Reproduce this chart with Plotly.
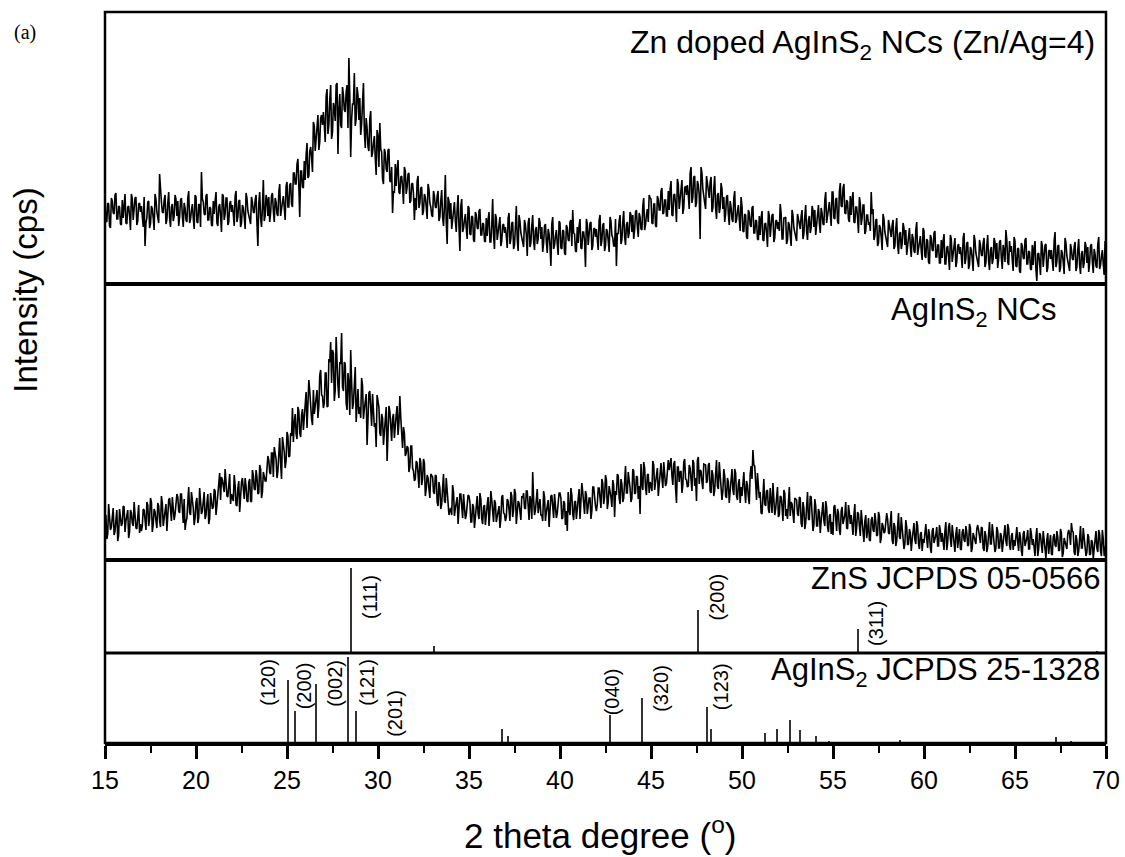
import numpy as np
import plotly.graph_objects as go

# ---------------- data ----------------
two_theta_start = 15.0
two_theta_step = 0.05

# Zn doped AgInS2 NCs (Zn/Ag=4) - intensity (a.u.) read at 15.0, 15.1, ... 70.0 (one row per degree)
zn_doped_main = [
    88, 62, 80, 56, 83, 70, 91, 65, 77, 59,
    66, 90, 60, 78, 54, 85, 72, 87, 63, 81,
    78, 57, 38, 66, 83, 60, 75, 54, 85, 68,
    110, 82, 71, 89, 64, 92, 57, 80, 68, 85,
    83, 67, 86, 57, 76, 62, 93, 65, 80, 55,
    87, 61, 79, 112, 82, 69, 90, 64, 76, 58,
    70, 92, 58, 80, 52, 88, 70, 86, 62, 83,
    79, 58, 93, 67, 84, 61, 76, 55, 86, 69,
    60, 82, 71, 89, 38, 92, 57, 104, 68, 85,
    87, 71, 91, 62, 82, 68, 100, 73, 88, 64,
    102, 77, 101, 77, 111, 100, 125, 67, 113, 96,
    104, 141, 108, 137, 112, 158, 145, 169, 142, 169,
    172, 142, 195, 159, 199, 152, 176, 199, 130, 190,
    156, 189, 172, 199, 226, 127, 180, 211, 165, 189,
    186, 160, 201, 136, 156, 133, 173, 131, 148, 109,
    148, 161, 132, 100, 131, 112, 135, 102, 71, 91,
    98, 124, 90, 108, 80, 113, 97, 111, 83, 101,
    64, 74, 108, 81, 97, 73, 87, 65, 95, 77,
    67, 88, 76, 93, 67, 94, 58, 109, 40, 83,
    81, 64, 82, 52, 89, 33, 85, 56, 70, 45,
    76, 49, 67, 42, 69, 55, 75, 49, 60, 42,
    48, 72, 42, 85, 35, 66, 52, 67, 43, 60,
    57, 36, 71, 45, 62, 39, 78, 33, 63, 46,
    37, 59, 28, 66, 41, 69, 34, 57, 45, 62,
    57, 41, 60, 31, 50, 18, 67, 39, 54, 29,
    61, 35, 53, 29, 56, 43, 64, 74, 50, 32,
    41, 65, 35, 52, 17, 60, 47, 62, 38, 56,
    55, 34, 69, 43, 61, 38, 53, 32, 63, 46,
    38, 18, 50, 69, 44, 73, 39, 62, 51, 69,
    69, 54, 74, 47, 67, 54, 86, 59, 75, 89,
    85, 60, 80, 57, 85, 74, 96, 71, 84, 68,
    74, 103, 68, 90, 62, 100, 85, 104, 76, 98,
    99, 75, 117, 87, 108, 81, 99, 45, 111, 90,
    75, 101, 86, 107, 76, 108, 65, 91, 76, 95,
    87, 70, 89, 59, 77, 62, 93, 64, 79, 53,
    78, 52, 69, 45, 71, 57, 78, 51, 63, 44,
    49, 73, 43, 61, 37, 68, 55, 70, 46, 64,
    62, 80, 45, 66, 67, 44, 59, 38, 69, 52,
    43, 65, 55, 74, 50, 79, 44, 68, 56, 74,
    74, 59, 79, 51, 71, 59, 92, 66, 82, 58,
    92, 65, 86, 60, 101, 77, 100, 70, 82, 62,
    69, 92, 61, 77, 51, 81, 66, 79, 53, 69,
    62, 92, 75, 48, 65, 41, 56, 34, 65, 47,
    37, 58, 47, 64, 38, 66, 30, 52, 40, 56,
    54, 38, 56, 27, 46, 31, 62, 34, 48, 24,
    53, 26, 43, 20, 46, 33, 53, 27, 39, 21,
    26, 50, 20, 38, 14, 45, 31, 46, 22, 40,
    37, 16, 51, 25, 42, 19, 34, 13, 44, 27,
    17, 39, 28, 46, 21, 49, 14, 37, 25, 42,
    41, 25, 44, 15, 34, 54, 22, 43, 38, 13,
    43, 17, 35, 11, 38, 25, 46, 20, 32, 14,
    19, 43, 3, 31, 9, 38, 25, 40, 16, 34,
    34, 13, 52, 22, 39, 16, 31, 10, 41, 24,
    13, 35, 24, 42, 17, 45, 10, 33, 21, 38,
    37, 21, 40, 11, 30, 16, 47, 19, 34, 9,
    30,
]
# same sample read at the in-between angles 15.05, 15.15, ... 69.95
zn_doped_mid = [
    63, 81, 58, 86, 71, 89, 65, 78, 60, 84,
    83, 61, 77, 68, 90, 64, 86, 59, 80, 72,
    69, 87, 61, 82, 56, 78, 66, 90, 72, 61,
    87, 72, 84, 60, 81, 66, 77, 63, 89, 68,
    58, 84, 68, 81, 64, 86, 61, 74, 66, 89,
    62, 80, 57, 85, 70, 88, 64, 77, 59, 83,
    83, 61, 77, 68, 90, 64, 86, 59, 80, 72,
    70, 88, 62, 83, 57, 79, 67, 91, 73, 62,
    87, 72, 84, 60, 81, 66, 77, 63, 89, 68,
    62, 88, 73, 86, 70, 92, 68, 82, 74, 98,
    77, 99, 80, 111, 100, 120, 98, 113, 97, 123,
    129, 106, 133, 127, 162, 133, 166, 134, 166, 159,
    159, 188, 150, 184, 145, 181, 163, 201, 174, 159,
    197, 174, 192, 156, 188, 164, 180, 158, 197, 164,
    149, 181, 154, 166, 137, 165, 127, 141, 126, 154,
    117, 135, 105, 135, 115, 134, 103, 117, 93, 120,
    115, 92, 107, 97, 117, 90, 110, 81, 100, 90,
    86, 103, 76, 96, 69, 90, 77, 100, 81, 69,
    93, 77, 88, 63, 83, 67, 77, 62, 87, 65,
    55, 80, 63, 75, 57, 78, 52, 64, 56, 78,
    50, 68, 44, 72, 56, 73, 49, 61, 43, 66,
    64, 42, 58, 48, 70, 44, 65, 38, 59, 51,
    48, 66, 40, 61, 35, 57, 45, 69, 51, 40,
    64, 49, 61, 37, 58, 43, 54, 40, 66, 45,
    32, 58, 42, 55, 38, 60, 35, 48, 40, 63,
    36, 54, 31, 59, 44, 62, 38, 51, 33, 57,
    58, 36, 52, 43, 65, 39, 61, 34, 55, 47,
    46, 64, 38, 59, 33, 55, 43, 67, 49, 38,
    65, 51, 63, 40, 62, 47, 59, 46, 72, 52,
    45, 72, 57, 71, 55, 78, 54, 69, 62, 86,
    61, 80, 58, 88, 74, 93, 70, 84, 68, 93,
    95, 69, 89, 79, 105, 75, 102, 70, 96, 89,
    89, 111, 81, 107, 77, 103, 89, 117, 95, 81,
    108, 89, 102, 72, 95, 76, 89, 71, 101, 75,
    62, 87, 70, 83, 65, 86, 61, 73, 65, 87,
    53, 70, 47, 74, 59, 76, 51, 64, 45, 68,
    66, 44, 60, 51, 73, 47, 69, 42, 63, 55,
    53, 71, 45, 66, 40, 62, 50, 74, 56, 45,
    70, 56, 68, 45, 67, 53, 64, 51, 78, 57,
    49, 76, 61, 76, 60, 84, 61, 75, 68, 92,
    66, 85, 63, 92, 78, 96, 71, 84, 65, 88,
    85, 62, 77, 66, 87, 59, 79, 50, 69, 59,
    53, 70, 44, 64, 38, 59, 47, 70, 52, 40,
    64, 48, 59, 35, 55, 40, 50, 35, 61, 39,
    29, 54, 38, 50, 33, 54, 29, 41, 33, 56,
    28, 45, 22, 49, 34, 51, 27, 39, 21, 44,
    43, 20, 36, 27, 49, 22, 44, 17, 38, 30,
    28, 46, 20, 41, 15, 37, 25, 49, 31, 20,
    44, 29, 41, 17, 38, 23, 34, 20, 46, 25,
    16, 42, 26, 39, 22, 44, 19, 32, 24, 47,
    18, 36, 13, 41, 26, 44, 20, 33, 15, 39,
    36, 14, 30, 21, 43, 17, 39, 12, 33, 25,
    25, 43, 17, 38, 12, 34, 22, 46, 28, 17,
    40, 25, 37, 13, 34, 19, 30, 16, 42, 21,
    12, 38, 22, 35, 18, 40, 15, 28, 20, 43,
]

# AgInS2 NCs - intensity (a.u.) at 15.0, 15.1, ... 70.0
agins2_main = [
    41, 20, 55, 29, 47, 24, 39, 18, 50, 33,
    53, 27, 45, 21, 49, 36, 57, 31, 44, 26,
    28, 50, 39, 57, 33, 61, 27, 50, 38, 56,
    38, 63, 33, 52, 28, 59, 47, 62, 39, 58,
    62, 46, 65, 36, 29, 41, 72, 44, 59, 34,
    57, 36, 71, 45, 62, 40, 56, 35, 66, 50,
    70, 44, 66, 86, 82, 70, 90, 63, 74, 55,
    61, 84, 54, 71, 47, 77, 65, 81, 58, 77,
    58, 89, 70, 89, 65, 94, 61, 87, 78, 97,
    99, 85, 106, 112, 100, 88, 121, 80, 114, 91,
    127, 102, 126, 151, 136, 125, 152, 126, 144, 129,
    155, 131, 179, 148, 134, 145, 167, 141, 184, 164,
    151, 186, 152, 200, 217, 209, 158, 222, 173, 197,
    226, 168, 195, 149, 176, 209, 150, 185, 137, 170,
    152, 181, 140, 161, 114, 166, 147, 165, 132, 112,
    159, 126, 145, 114, 145, 98, 153, 124, 141, 121,
    144, 124, 163, 121, 132, 103, 113, 87, 113, 91,
    78, 98, 85, 101, 74, 100, 63, 84, 70, 85,
    82, 65, 83, 53, 71, 55, 85, 56, 70, 44,
    51, 74, 43, 60, 35, 65, 51, 65, 40, 57,
    63, 37, 55, 31, 58, 45, 66, 40, 52, 34,
    54, 33, 68, 42, 59, 37, 51, 31, 62, 46,
    38, 60, 49, 67, 42, 70, 35, 58, 46, 63,
    66, 50, 68, 39, 58, 87, 44, 64, 46, 60,
    44, 68, 38, 56, 32, 63, 50, 65, 41, 59,
    66, 40, 58, 34, 28, 49, 71, 45, 57, 40,
    61, 40, 76, 50, 68, 45, 61, 40, 72, 56,
    48, 71, 61, 80, 55, 84, 50, 73, 62, 79,
    42, 64, 83, 55, 75, 61, 93, 66, 81, 57,
    90, 65, 83, 60, 45, 75, 97, 71, 84, 66,
    74, 98, 69, 87, 63, 94, 81, 97, 73, 91,
    89, 101, 74, 98, 56, 92, 87, 66, 97, 80,
    72, 94, 82, 99, 73, 58, 102, 89, 77, 95,
    94, 78, 96, 66, 84, 69, 99, 70, 84, 59,
    90, 63, 81, 56, 83, 69, 90, 63, 75, 56,
    63, 87, 56, 74, 55, 93, 109, 93, 59, 72,
    67, 45, 80, 53, 69, 46, 60, 76, 44, 58,
    42, 63, 52, 69, 43, 40, 72, 57, 45, 61,
    59, 43, 61, 32, 51, 36, 67, 39, 62, 28,
    60, 33, 50, 26, 52, 38, 58, 32, 43, 25,
    24, 54, 28, 46, 24, 52, 40, 57, 30, 46,
    44, 24, 55, 31, 45, 23, 37, 17, 44, 28,
    19, 39, 29, 46, 23, 47, 16, 36, 26, 41,
    40, 25, 48, 15, 32, 18, 46, 20, 33, 10,
    39, 14, 30, 8, 32, 19, 38, 15, 25, 8,
    16, 35, 11, 25, 6, 31, 20, 32, 13, 28,
    26, 9, 37, 16, 36, 12, 24, 7, 32, 18,
    10, 27, 19, 33, 13, 35, 7, 26, 16, 30,
    29, 16, 31, 8, 23, 12, 37, 15, 27, 7,
    32, 11, 26, 7, 28, 18, 35, 14, 23, 9,
    13, 32, 8, 22, 3, 28, 17, 29, 10, 25,
    20, 3, 31, 10, 24, 6, 18, 1, 26, 12,
    5, 22, 14, 28, 8, 30, 2, 21, 11, 25,
    25, 36, 27, 4, 19, 8, 33, 11, 23, 3,
    25, 4, 19, 0, 21, 11, 29, 8, 29, 3,
    16,
]
# AgInS2 NCs read at 15.05, 15.15, ... 69.95
agins2_mid = [
    44, 25, 40, 32, 51, 28, 49, 24, 43, 36,
    52, 38, 49, 27, 46, 33, 43, 30, 54, 35,
    33, 49, 29, 54, 40, 57, 35, 47, 31, 53,
    32, 56, 42, 55, 40, 61, 38, 50, 45, 65,
    48, 65, 41, 60, 37, 57, 46, 67, 51, 41,
    61, 41, 56, 48, 67, 44, 65, 40, 59, 52,
    68, 54, 71, 59, 79, 67, 76, 62, 85, 65,
    58, 74, 53, 78, 63, 81, 60, 73, 57, 80,
    57, 84, 69, 82, 66, 90, 67, 83, 78, 103,
    86, 106, 82, 105, 81, 105, 95, 122, 107, 98,
    123, 103, 123, 117, 145, 120, 148, 122, 150, 145,
    167, 150, 168, 140, 169, 153, 169, 153, 189, 163,
    156, 186, 153, 197, 176, 206, 169, 189, 161, 195,
    172, 197, 156, 186, 144, 177, 156, 192, 162, 145,
    141, 173, 150, 165, 141, 168, 133, 148, 136, 164,
    152, 123, 141, 128, 152, 120, 148, 118, 145, 137,
    153, 136, 142, 111, 126, 106, 111, 92, 113, 88,
    80, 96, 71, 97, 80, 96, 70, 81, 61, 83,
    67, 84, 57, 77, 50, 71, 58, 81, 62, 49,
    44, 67, 51, 62, 46, 65, 41, 52, 44, 64,
    57, 37, 52, 44, 63, 40, 60, 35, 54, 47,
    62, 48, 59, 37, 56, 43, 53, 40, 64, 45,
    42, 58, 38, 63, 49, 66, 44, 56, 39, 61,
    51, 68, 44, 63, 40, 60, 49, 70, 54, 44,
    38, 62, 47, 59, 44, 64, 41, 53, 46, 66,
    61, 41, 56, 48, 67, 44, 64, 39, 58, 51,
    70, 56, 67, 45, 64, 51, 61, 48, 72, 53,
    55, 71, 51, 76, 62, 79, 57, 69, 52, 74,
    68, 85, 61, 80, 57, 77, 66, 87, 71, 61,
    88, 66, 82, 73, 95, 69, 91, 64, 85, 77,
    68, 94, 78, 91, 74, 96, 71, 84, 76, 99,
    98, 83, 95, 71, 92, 77, 88, 74, 100, 79,
    73, 91, 68, 96, 81, 99, 75, 88, 70, 94,
    76, 94, 68, 89, 63, 85, 73, 97, 79, 68,
    83, 61, 77, 68, 90, 64, 86, 59, 80, 72,
    81, 68, 78, 62, 85, 80, 94, 76, 86, 61,
    46, 72, 55, 68, 50, 71, 46, 58, 50, 72,
    44, 62, 38, 66, 50, 67, 43, 55, 36, 60,
    45, 62, 36, 57, 30, 52, 40, 63, 45, 34,
    53, 33, 47, 38, 57, 33, 52, 27, 45, 37,
    52, 38, 50, 29, 48, 35, 44, 31, 54, 35,
    28, 44, 23, 47, 33, 49, 27, 38, 21, 41,
    18, 42, 27, 38, 24, 43, 21, 33, 27, 46,
    26, 43, 19, 36, 13, 32, 22, 42, 25, 15,
    32, 15, 26, 19, 36, 15, 33, 10, 27, 20,
    32, 20, 30, 11, 28, 16, 24, 13, 34, 17,
    13, 28, 9, 32, 20, 34, 15, 25, 11, 30,
    9, 30, 17, 27, 14, 31, 11, 22, 15, 34,
    18, 32, 11, 28, 7, 25, 15, 35, 20, 11,
    28, 11, 23, 16, 34, 13, 31, 9, 26, 19,
    29, 17, 27, 8, 25, 13, 21, 10, 31, 14,
    7, 22, 3, 26, 14, 28, 9, 19, 5, 24,
    4, 25, 12, 22, 9, 26, 6, 17, 10, 29,
    14, 28, 7, 24, 3, 21, 11, 31, 16, 7,
    22, 5, 17, 10, 28, 7, 25, 3, 20, 13,
]

# ZnS JCPDS 05-0566 reference pattern
zns_pos = [28.55, 33.10, 47.57, 56.36, 69.50]
zns_int = [100, 8, 51, 28, 2]
zns_label_text = ["(111)", "(200)", "(311)"]
zns_label_x = [29.56, 48.60, 57.40]
zns_label_y = [66, 66, 35]

# AgInS2 JCPDS 25-1328 reference pattern
agins2_ref_pos = [25.04, 25.44, 26.63, 28.39, 28.79, 36.83, 37.16, 42.76, 44.54,
                  48.11, 48.33, 51.30, 51.96, 52.67, 53.22, 54.10, 54.80, 58.70,
                  67.25, 68.10]
agins2_ref_int = [73, 37, 69, 100, 37, 16, 8, 33, 52,
                  42, 16, 12, 16, 27, 15, 8, 2, 3,
                  7, 2]
agins2_label_text = ["(120)", "(200)", "(002)", "(121)", "(201)", "(040)", "(320)", "(123)"]
agins2_label_x = [23.96, 25.93, 27.64, 29.40, 30.93, 42.86, 45.55, 48.85]
agins2_label_y = [70, 67, 69, 70, 35, 59, 63, 65]

panel_titles = ["Zn doped AgInS<sub>2</sub> NCs (Zn/Ag=4)", "AgInS<sub>2</sub> NCs",
                "ZnS JCPDS 05-0566", "AgInS<sub>2</sub> JCPDS 25-1328"]


# ---------------- figure ----------------
def interleave(main, mid):
    out = []
    for i, v in enumerate(main):
        out.append(v)
        if i < len(mid):
            out.append(mid[i])
    return out


zn_doped_intensity = interleave(zn_doped_main, zn_doped_mid)
agins2_intensity = interleave(agins2_main, agins2_mid)
two_theta = np.round(two_theta_start + two_theta_step * np.arange(len(zn_doped_intensity)), 3)

FONT = "Liberation Sans, Arial, sans-serif"
fig = go.Figure()

fig.add_trace(go.Scatter(x=two_theta, y=zn_doped_intensity, mode="lines",
                         line=dict(color="black", width=1.6), xaxis="x", yaxis="y"))
fig.add_trace(go.Scatter(x=two_theta, y=agins2_intensity, mode="lines",
                         line=dict(color="black", width=1.6), xaxis="x", yaxis="y2"))
fig.add_trace(go.Bar(x=zns_pos, y=zns_int, width=0.08, marker=dict(color="#333333", line=dict(width=0)),
                     xaxis="x", yaxis="y3"))
fig.add_trace(go.Bar(x=agins2_ref_pos, y=agins2_ref_int, width=0.08,
                     marker=dict(color="#333333", line=dict(width=0)), xaxis="x", yaxis="y4"))

# panel boundaries in paper fraction
b1, b2, b3 = 0.6279, 0.2503, 0.1231

yax = dict(showticklabels=False, showgrid=False, zeroline=False, ticks="", showline=False,
           anchor="x", automargin=False)
fig.update_layout(
    width=1125, height=857,
    margin=dict(l=105, r=19, t=12, b=114, autoexpand=False),
    paper_bgcolor="white", plot_bgcolor="white",
    showlegend=False, bargap=0,
    xaxis=dict(range=[15, 70], anchor="y4", tick0=15, dtick=5, ticks="outside", ticklen=13,
               tickwidth=2.5, tickcolor="black", showline=True, linewidth=3, linecolor="black",
               showgrid=False, zeroline=False, automargin=False,
               tickfont=dict(family=FONT, size=25, color="black"),
               minor=dict(dtick=2.5, ticks="outside", ticklen=7, tickwidth=2, tickcolor="black")),
    yaxis=dict(domain=[b1, 1], range=[0, 272], **yax),
    yaxis2=dict(domain=[b2, b1], range=[-1, 275], **yax),
    yaxis3=dict(domain=[b3, b2], range=[0, 109.4], **yax),
    yaxis4=dict(domain=[0, b3], range=[0, 104.6], **yax),
)

shapes = [
    dict(type="rect", xref="paper", yref="paper", x0=0, x1=1, y0=0, y1=1,
         line=dict(color="black", width=2.5), layer="above"),
    dict(type="line", xref="paper", yref="paper", x0=0, x1=1, y0=b1, y1=b1,
         line=dict(color="black", width=4), layer="above"),
    dict(type="line", xref="paper", yref="paper", x0=0, x1=1, y0=b2, y1=b2,
         line=dict(color="black", width=4), layer="above"),
    dict(type="line", xref="paper", yref="paper", x0=0, x1=1, y0=b3, y1=b3,
         line=dict(color="black", width=3), layer="above"),
]
fig.update_layout(shapes=shapes)

ann = []
title_pos = [(0.991, 0.9549, 32), (0.952, 0.5896, 31), (0.996, 0.2244, 31), (0.996, 0.0971, 31)]
for t, (px, py, fs) in zip(panel_titles, title_pos):
    ann.append(dict(text=t, xref="paper", yref="paper", x=px, y=py, xanchor="right",
                    yanchor="middle", showarrow=False, font=dict(family=FONT, size=fs, color="black")))

for t, lx, ly in zip(zns_label_text, zns_label_x, zns_label_y):
    ann.append(dict(text=t, xref="x", yref="y3", x=lx, y=ly, textangle=-90, showarrow=False,
                    xanchor="center", yanchor="middle", font=dict(family=FONT, size=20, color="black")))
for t, lx, ly in zip(agins2_label_text, agins2_label_x, agins2_label_y):
    ann.append(dict(text=t, xref="x", yref="y4", x=lx, y=ly, textangle=-90, showarrow=False,
                    xanchor="center", yanchor="middle", font=dict(family=FONT, size=20, color="black")))

ann.append(dict(text="Intensity (cps)", xref="paper", yref="paper", x=-0.079, y=0.620,
                textangle=-90, showarrow=False, xanchor="center", yanchor="middle",
                font=dict(family=FONT, size=33, color="black")))
ann.append(dict(text="2 theta degree (<sup>o</sup>)", xref="paper", yref="paper", x=0.4945, y=-0.1225,
                showarrow=False, xanchor="center", yanchor="middle",
                font=dict(family=FONT, size=35, color="black")))
ann.append(dict(text="(a)", xref="paper", yref="paper", x=-0.0799, y=0.9726,
                showarrow=False, xanchor="center", yanchor="middle",
                font=dict(family="Liberation Serif, Times New Roman, serif", size=20, color="black")))
fig.update_layout(annotations=ann)

# remove the default page margin so the figure sits at the window's top-left corner
fig.write_html("out.html", config={"displayModeBar": False},
               post_script="document.body.style.margin='0px';document.body.style.overflow='hidden';")
